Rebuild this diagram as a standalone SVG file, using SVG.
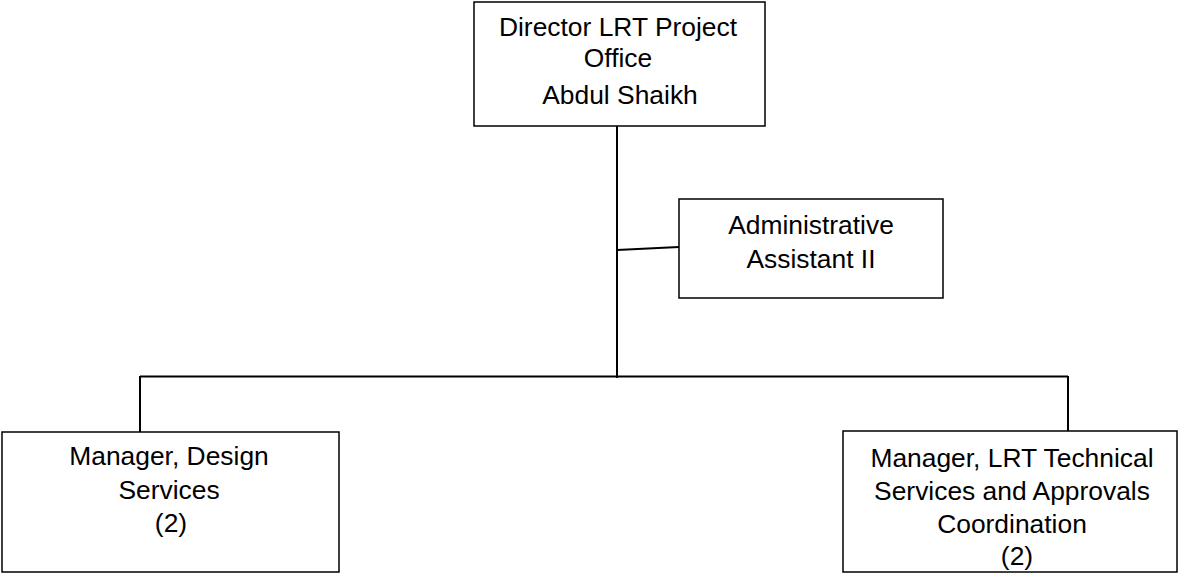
<svg xmlns="http://www.w3.org/2000/svg" width="1179" height="574" viewBox="0 0 1179 574">
<style>
.box{fill:#fff;stroke:#000;stroke-width:1.5}
.t{font-family:"Liberation Sans",Arial,sans-serif;font-size:26.4px;fill:#000;text-anchor:middle}
.c{stroke:#000;stroke-width:2;fill:none}
</style>
<rect width="1179" height="574" fill="#fff"/>
<g id="connectors">
<line class="c" x1="617" y1="126" x2="617" y2="378"/>
<line class="c" x1="617" y1="250" x2="679" y2="247" stroke-width="1.5"/>
<line class="c" x1="140" y1="376.5" x2="1068" y2="376.5"/>
<line class="c" x1="140" y1="376" x2="140" y2="432"/>
<line class="c" x1="1068" y1="376" x2="1068" y2="431"/>
</g>
<g id="director">
<rect class="box" x="474" y="2" width="291" height="124"/>
<text class="t" x="618" y="36">Director LRT Project</text>
<text class="t" x="618" y="67">Office</text>
<text class="t" x="620" y="104">Abdul Shaikh</text>
</g>
<g id="admin">
<rect class="box" x="679" y="199" width="264" height="99"/>
<text class="t" x="811" y="234">Administrative</text>
<text class="t" x="811" y="268">Assistant II</text>
</g>
<g id="design">
<rect class="box" x="2" y="432" width="337" height="140"/>
<text class="t" x="169" y="465">Manager, Design</text>
<text class="t" x="169" y="499">Services</text>
<text class="t" x="171" y="532">(2)</text>
</g>
<g id="technical">
<rect class="box" x="843" y="431" width="334" height="141"/>
<text class="t" x="1012" y="467">Manager, LRT Technical</text>
<text class="t" x="1012" y="500">Services and Approvals</text>
<text class="t" x="1012" y="533">Coordination</text>
<text class="t" x="1017" y="565">(2)</text>
</g>
</svg>
